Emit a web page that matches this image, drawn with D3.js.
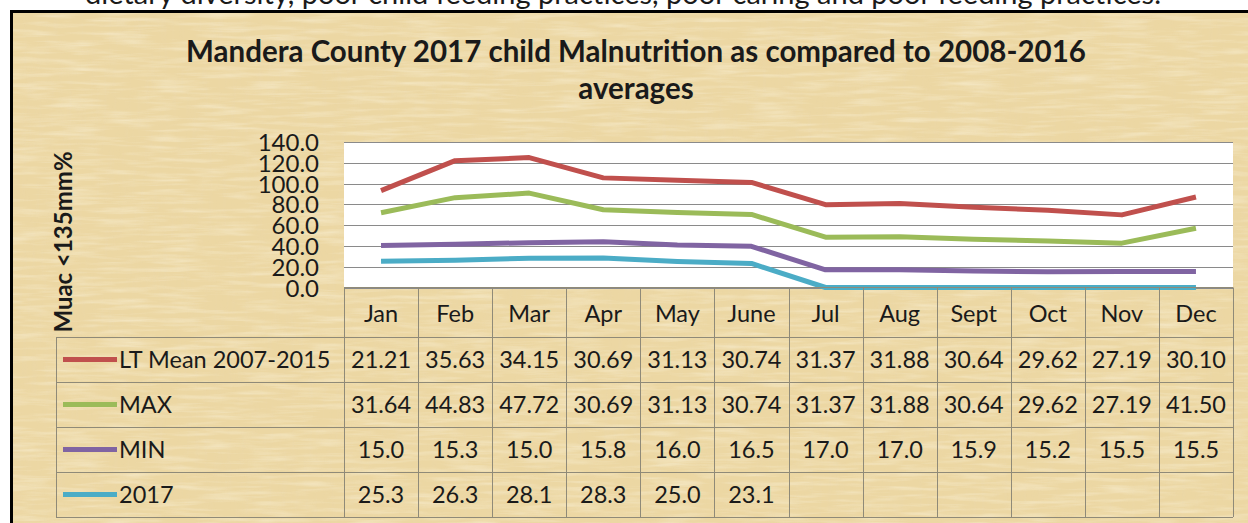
<!DOCTYPE html>
<html>
<head>
<meta charset="utf-8">
<script src="https://cdn.jsdelivr.net/npm/d3@7"></script>
<style>
  html, body { margin: 0; padding: 0; background: #fff; }
  svg { display: block; }
  text { font-family: Lato, "Open Sans", sans-serif; fill: #1a1a1a; }
</style>
</head>
<body>
<div id="chart"></div>
<script>
// data
var months = ["Jan","Feb","Mar","Apr","May","June","Jul","Aug","Sept","Oct","Nov","Dec"];
var ltMean = [21.21,35.63,34.15,30.69,31.13,30.74,31.37,31.88,30.64,29.62,27.19,30.10];
var maxVals = [31.64,44.83,47.72,30.69,31.13,30.74,31.37,31.88,30.64,29.62,27.19,41.50];
var minVals = [15.0,15.3,15.0,15.8,16.0,16.5,17.0,17.0,15.9,15.2,15.5,15.5];
var vals2017 = [25.3,26.3,28.1,28.3,25.0,23.1,null,null,null,null,null,null];
var yTicks = [0,20,40,60,80,100,120,140];

// table order (top to bottom); stacking goes the other way
var series = [
  {key:"lt",  name:"LT Mean 2007-2015", values:ltMean,   color:"#c0504d", fmt:".2f"},
  {key:"max", name:"MAX",               values:maxVals,  color:"#9bbb59", fmt:".2f"},
  {key:"min", name:"MIN",               values:minVals,  color:"#8064a2", fmt:".1f"},
  {key:"y17", name:"2017",              values:vals2017, color:"#4bacc6", fmt:".1f"}
];

var W=1248, H=523;
var plot={left:344,right:1233,top:142,bottom:287.5};
var rowTop=337, rowH=45, tableLeft=56;
var fs="23.5px";

var svg=d3.select("#chart").append("svg")
  .attr("width",W).attr("height",H);

// parchment background (fibres)
var defs=svg.append("defs");
var f=defs.append("filter").attr("id","paper").attr("x",0).attr("y",0).attr("width","100%").attr("height","100%");
f.append("feTurbulence").attr("type","fractalNoise").attr("baseFrequency","0.02 0.22")
  .attr("numOctaves",3).attr("seed",4).attr("result","n1");
f.append("feColorMatrix").attr("in","n1").attr("type","matrix")
  .attr("values","0 0 0 0 1  0 0 0 0 0.97  0 0 0 0 0.85  1.3 0 0 0 -0.55");
var f2=defs.append("filter").attr("id","paper2").attr("x",0).attr("y",0).attr("width","100%").attr("height","100%");
f2.append("feTurbulence").attr("type","fractalNoise").attr("baseFrequency","0.22 0.02")
  .attr("numOctaves",3).attr("seed",9).attr("result","n2");
f2.append("feColorMatrix").attr("in","n2").attr("type","matrix")
  .attr("values","0 0 0 0 0.82  0 0 0 0 0.68  0 0 0 0 0.42  1.2 0 0 0 -0.55");

svg.append("rect").attr("x",0).attr("y",0).attr("width",W).attr("height",H).attr("fill","#fff");
svg.append("rect").attr("x",10).attr("y",11).attr("width",W-10).attr("height",H-11).attr("fill","#ecd7a3");
svg.append("rect").attr("x",10).attr("y",11).attr("width",W-10).attr("height",H-11).attr("filter","url(#paper2)").attr("opacity",0.45);
svg.append("rect").attr("x",10).attr("y",11).attr("width",W-10).attr("height",H-11).attr("filter","url(#paper)").attr("opacity",0.6);

// frame
svg.append("path").attr("d","M11.5,"+H+"V11.5H"+W).attr("fill","none").attr("stroke","#000").attr("stroke-width",3);

// text of the page above, cut off by the top edge
svg.append("text").attr("x",623).attr("y",4).attr("text-anchor","middle")
  .style("font-size","29px")
  .text("dietary diversity, poor child feeding practices, poor caring and poor feeding practices.");

// title
svg.append("text").attr("x",636).attr("y",62).attr("text-anchor","middle")
  .style("font-size","29.5px").style("font-weight","bold")
  .text("Mandera County 2017 child Malnutrition as compared to 2008-2016");
svg.append("text").attr("x",636).attr("y",99).attr("text-anchor","middle")
  .style("font-size","29.5px").style("font-weight","bold")
  .text("averages");

// scales
var x=d3.scaleBand().domain(months).range([plot.left,plot.right]);
var y=d3.scaleLinear().domain([0,140]).range([plot.bottom,plot.top]);

// plot area
svg.append("rect").attr("x",plot.left).attr("y",plot.top)
  .attr("width",plot.right-plot.left).attr("height",plot.bottom-plot.top)
  .attr("fill","#fff");

svg.append("g").selectAll("line").data(yTicks).enter().append("line")
  .attr("x1",plot.left).attr("x2",plot.right)
  .attr("y1",function(d){return Math.round(y(d))+0.5;})
  .attr("y2",function(d){return Math.round(y(d))+0.5;})
  .attr("stroke","#8a8a8a").attr("stroke-width",1.2);

var yAxis=d3.axisLeft(y).tickValues(yTicks).tickFormat(d3.format(".1f")).tickSize(0).tickPadding(0);
var gy=svg.append("g").attr("transform","translate(319,0)").call(yAxis);
gy.select(".domain").remove();
gy.selectAll("text").style("font-size","24px").style("font-family","Lato, sans-serif").attr("fill","#1a1a1a").attr("dy","0.36em");

// y title
svg.append("text").attr("transform","translate(72,242) rotate(-90)").attr("text-anchor","middle")
  .style("font-size","24px").style("font-weight","bold").text("Muac <135mm%");

// stacked lines (blank = 0)
var rows=months.map(function(m,i){
  var r={month:m};
  series.forEach(function(s){ r[s.key]=s.values[i]==null?0:s.values[i]; });
  return r;
});
var stack=d3.stack().keys(["y17","min","max","lt"]);
var stacked=stack(rows);
var line=d3.line()
  .x(function(d){return x(d.data.month)+x.bandwidth()/2;})
  .y(function(d){return y(d[1]);});
var colorOf={}; series.forEach(function(s){colorOf[s.key]=s.color;});

svg.append("g").selectAll("path").data(stacked).enter().append("path")
  .attr("d",line).attr("fill","none")
  .attr("stroke",function(d){return colorOf[d.key];})
  .attr("stroke-width",5).attr("stroke-linejoin","round").attr("stroke-linecap","butt");

// data table
var gridCol="#8f8a78";
var tableBottom=rowTop+rowH*series.length;
var tbl=svg.append("g");

// header row cells (month names)
tbl.append("line").attr("x1",plot.left).attr("x2",plot.right).attr("y1",plot.bottom).attr("y2",plot.bottom)
  .attr("stroke",gridCol);
tbl.selectAll(".vline").data(months.concat(["_end"])).enter().append("line")
  .attr("x1",function(d,i){return Math.round(plot.left+i*x.bandwidth())+0.5;})
  .attr("x2",function(d,i){return Math.round(plot.left+i*x.bandwidth())+0.5;})
  .attr("y1",plot.bottom).attr("y2",tableBottom)
  .attr("stroke",gridCol);
tbl.selectAll(".mlbl").data(months).enter().append("text")
  .attr("x",function(d){return x(d)+x.bandwidth()/2;})
  .attr("y",plot.bottom+(rowTop-plot.bottom)/2+1).attr("dy","0.36em")
  .attr("text-anchor","middle").style("font-size",fs)
  .text(function(d){return d;});

// horizontal row lines
tbl.selectAll(".hline").data(d3.range(series.length+1)).enter().append("line")
  .attr("x1",tableLeft).attr("x2",plot.right)
  .attr("y1",function(i){return rowTop+i*rowH+0.5;})
  .attr("y2",function(i){return rowTop+i*rowH+0.5;})
  .attr("stroke",gridCol);
tbl.append("line").attr("x1",tableLeft+0.5).attr("x2",tableLeft+0.5)
  .attr("y1",rowTop).attr("y2",tableBottom).attr("stroke",gridCol);

var row=tbl.selectAll(".row").data(series).enter().append("g")
  .attr("transform",function(d,i){return "translate(0,"+(rowTop+i*rowH+rowH/2)+")";});
row.append("line").attr("x1",63).attr("x2",117).attr("y1",0).attr("y2",0)
  .attr("stroke",function(d){return d.color;}).attr("stroke-width",5);
row.append("text").attr("x",119).attr("dy","0.36em").style("font-size",fs)
  .text(function(d){return d.name;});
row.selectAll(".val").data(function(s){
    return s.values.map(function(v,i){return {v:v,m:months[i],fmt:s.fmt};});
  }).enter().append("text")
  .attr("x",function(d){return x(d.m)+x.bandwidth()/2;})
  .attr("dy","0.36em").attr("text-anchor","middle").style("font-size",fs)
  .text(function(d){return d.v==null?"":d3.format(d.fmt)(d.v);});
</script>
</body>
</html>
